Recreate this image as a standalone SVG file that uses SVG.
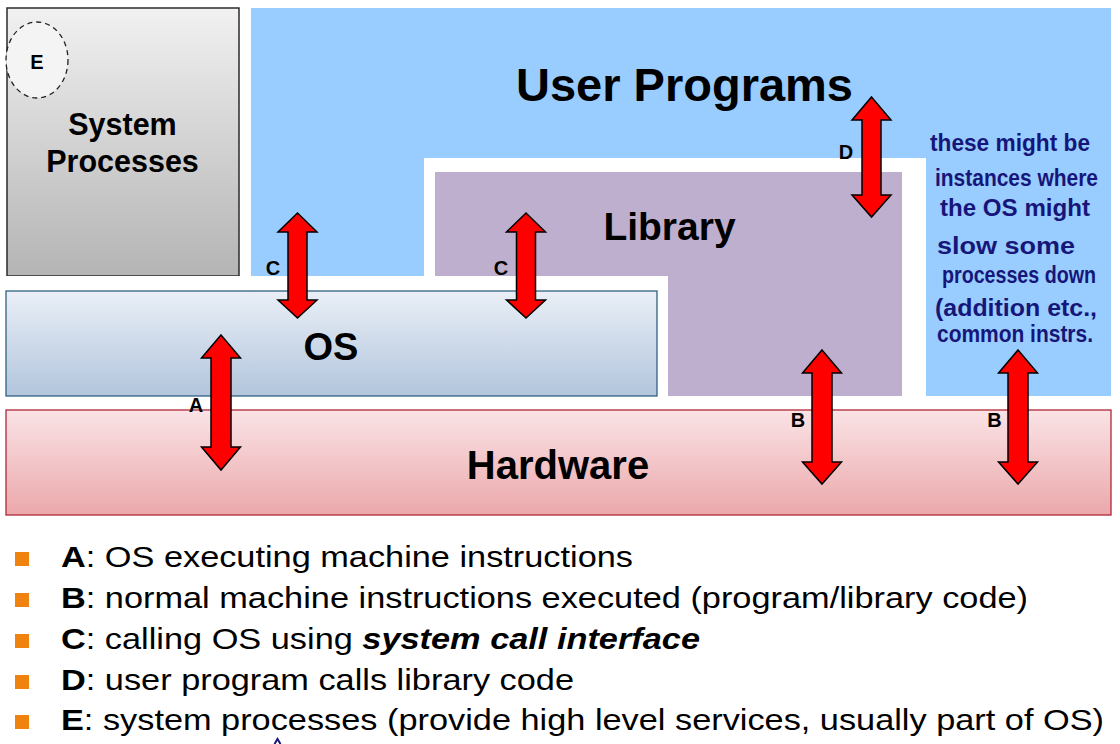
<svg xmlns="http://www.w3.org/2000/svg" width="1120" height="744" viewBox="0 0 1120 744">
  <defs>
    <linearGradient id="gSys" x1="0" y1="0" x2="0" y2="1">
      <stop offset="0" stop-color="#f1f1f1"/>
      <stop offset="1" stop-color="#b4b4b4"/>
    </linearGradient>
    <linearGradient id="gOS" x1="0" y1="0" x2="0" y2="1">
      <stop offset="0" stop-color="#eaeff7"/>
      <stop offset="1" stop-color="#b2c5dc"/>
    </linearGradient>
    <linearGradient id="gHW" x1="0" y1="0" x2="0" y2="1">
      <stop offset="0" stop-color="#fae3e6"/>
      <stop offset="1" stop-color="#eba8ab"/>
    </linearGradient>
  </defs>
  <style>
    .lbl { font-family: "Liberation Sans", Arial, sans-serif; font-weight: bold; fill: #000; }
    .arr { fill: #ff0000; stroke: #000; stroke-width: 1.5; stroke-linejoin: miter; }
    .hand { font-family: "Liberation Sans Narrow", "Liberation Sans", sans-serif; font-weight: bold; fill: #16167a; font-size: 23px; }
    .leg { font-family: "Liberation Sans", Arial, sans-serif; font-size: 30px; fill: #000; }
    .bul { fill: #f0820f; }
  </style>
  <rect width="1120" height="744" fill="#ffffff"/>

  <g id="user-programs">
    <rect x="251" y="8" width="860" height="388" fill="#99ccff"/>
    <text class="lbl" x="684.5" y="101" font-size="47" text-anchor="middle">User Programs</text>
  </g>

  <g id="library">
    <rect x="424" y="158" width="502" height="252" fill="#ffffff"/>
    <rect x="435" y="172" width="467" height="224" fill="#bfafcf"/>
    <text class="lbl" x="669.5" y="240" font-size="39" text-anchor="middle">Library</text>
  </g>

  <g id="system-processes">
    <rect x="7" y="8" width="232" height="268" fill="url(#gSys)" stroke="#2b2b2b" stroke-width="1.5"/>
    <ellipse cx="37" cy="60" rx="31" ry="38" fill="#f4f4f4" stroke="#222" stroke-width="1.3" stroke-dasharray="5,4"/>
    <text class="lbl" x="37" y="69" font-size="20" text-anchor="middle">E</text>
    <text class="lbl" x="122.5" y="135" font-size="30.5" text-anchor="middle">System</text>
    <text class="lbl" x="122.5" y="172" font-size="30.5" text-anchor="middle">Processes</text>
  </g>

  <g id="os">
    <rect x="0" y="276" width="668" height="134" fill="#ffffff"/>
    <rect x="6" y="291" width="651" height="105" fill="url(#gOS)" stroke="#2f6283" stroke-width="1.3"/>
    <text class="lbl" x="331" y="360" font-size="38" text-anchor="middle">OS</text>
  </g>

  <g id="hardware">
    <rect x="6" y="410" width="1105" height="105" fill="url(#gHW)" stroke="#b02838" stroke-width="1.3"/>
    <text class="lbl" x="558" y="479" font-size="40" text-anchor="middle">Hardware</text>
  </g>

  <g id="note">
    <text class="hand" x="930" y="151" textLength="160" lengthAdjust="spacingAndGlyphs">these might be</text>
    <text class="hand" x="935" y="186" textLength="163" lengthAdjust="spacingAndGlyphs">instances where</text>
    <text class="hand" x="940" y="216" textLength="150" lengthAdjust="spacingAndGlyphs">the OS might</text>
    <text class="hand" x="937" y="254" textLength="138" lengthAdjust="spacingAndGlyphs">slow some</text>
    <text class="hand" x="942" y="283" textLength="154" lengthAdjust="spacingAndGlyphs">processes down</text>
    <text class="hand" x="935" y="316" textLength="162" lengthAdjust="spacingAndGlyphs">(addition etc.,</text>
    <text class="hand" x="937" y="342" textLength="156" lengthAdjust="spacingAndGlyphs">common instrs.</text>
  </g>

  <g id="connectors">
    <!-- D -->
    <polygon class="arr" points="871.5,97 891,120 881,120 881,195 891,195 871.5,217 852,195 862,195 862,120 852,120"/>
    <text class="lbl" x="846" y="159" font-size="20" text-anchor="middle">D</text>
    <!-- C left -->
    <polygon class="arr" points="297.5,213 317,232 307,232 307,300 317,300 297.5,318 278,300 288,300 288,232 278,232"/>
    <text class="lbl" x="273" y="275" font-size="20" text-anchor="middle">C</text>
    <!-- C right -->
    <polygon class="arr" points="526,213 545.5,232 535.5,232 535.5,300 545.5,300 526,318 506.5,300 516.5,300 516.5,232 506.5,232"/>
    <text class="lbl" x="501" y="275" font-size="20" text-anchor="middle">C</text>
    <!-- A -->
    <polygon class="arr" points="221,335 240.5,358 231,358 231,447 240.5,447 221,470 201.5,447 211,447 211,358 201.5,358"/>
    <text class="lbl" x="196" y="412" font-size="20" text-anchor="middle">A</text>
    <!-- B left -->
    <polygon class="arr" points="822,350 841.5,373 832,373 832,462 841.5,462 822,484 802.5,462 812,462 812,373 802.5,373"/>
    <text class="lbl" x="798" y="427" font-size="20" text-anchor="middle">B</text>
    <!-- B right -->
    <polygon class="arr" points="1018,350 1037.5,373 1028,373 1028,462 1037.5,462 1018,484 998.5,462 1008,462 1008,373 998.5,373"/>
    <text class="lbl" x="994.5" y="427" font-size="20" text-anchor="middle">B</text>
  </g>

  <g id="legend">
    <rect class="bul" x="15" y="552" width="14" height="14"/>
    <rect class="bul" x="15" y="593" width="14" height="14"/>
    <rect class="bul" x="15" y="634" width="14" height="14"/>
    <rect class="bul" x="15" y="675" width="14" height="14"/>
    <rect class="bul" x="15" y="715" width="14" height="14"/>
    <text class="leg" x="61" y="567" textLength="572" lengthAdjust="spacingAndGlyphs"><tspan font-weight="bold">A</tspan>: OS executing machine instructions</text>
    <text class="leg" x="61" y="608" textLength="967" lengthAdjust="spacingAndGlyphs"><tspan font-weight="bold">B</tspan>: normal machine instructions executed (program/library code)</text>
    <text class="leg" x="61" y="649" textLength="639" lengthAdjust="spacingAndGlyphs"><tspan font-weight="bold">C</tspan>: calling OS using <tspan font-weight="bold" font-style="italic">system call interface</tspan></text>
    <text class="leg" x="61" y="689.5" textLength="513" lengthAdjust="spacingAndGlyphs"><tspan font-weight="bold">D</tspan>: user program calls library code</text>
    <text class="leg" x="61" y="730" textLength="1043" lengthAdjust="spacingAndGlyphs"><tspan font-weight="bold">E</tspan>: system processes (provide high level services, usually part of OS)</text>
  </g>

  <path d="M274.5,744 L277.5,739 L280.5,744" fill="none" stroke="#16167a" stroke-width="2"/>
</svg>
